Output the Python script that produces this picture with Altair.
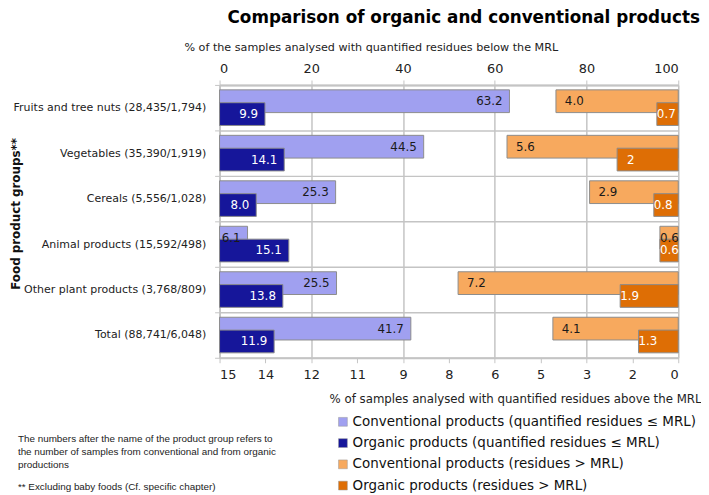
import altair as alt
import pandas as pd

categories = [
    "Fruits and tree nuts (28,435/1,794)",
    "Vegetables (35,390/1,919)",
    "Cereals (5,556/1,028)",
    "Animal products (15,592/498)",
    "Other plant products (3,768/809)",
    "Total (88,741/6,048)",
]
conv_below = [63.2, 44.5, 25.3, 6.1, 25.5, 41.7]
org_below = [9.9, 14.1, 8.0, 15.1, 13.8, 11.9]
conv_above = [4.0, 5.6, 2.9, 0.6, 7.2, 4.1]
org_above = [0.7, 2.0, 0.8, 0.6, 1.9, 1.3]
org_above_labels = ["0.7", "2", "0.8", "0.6", "1.9", "1.3"]

series_names = [
    "Conventional products  (quantified residues \u2264 MRL)",
    "Organic products (quantified residues \u2264 MRL)",
    "Conventional products (residues > MRL)",
    "Organic products (residues > MRL)",
]
series_colors = ["#A0A0F0", "#16169A", "#F7A95E", "#DE6E05"]

top_ticks = [0, 20, 40, 60, 80, 100]
bottom_ticks = [15, 13.5, 12, 10.5, 9, 7.5, 6, 4.5, 3, 1.5, 0]

title_text = "Comparison of organic and conventional products"
top_title = "% of the samples analysed with quantified residues below the MRL"
bottom_title = "% of samples analysed with quantified residues above the MRL"
y_title = "Food product groups**"
note_lines = [
    "The numbers after the name of the product group refers to",
    "the number of samples from conventional and from organic",
    "productions",
]
note2_lines = ["**  Excluding baby foods (Cf. specific chapter)"]

FONT = "DejaVu Sans"
GRID = "#c4c4c4"


def frame(vals, series, labels=None):
    return pd.DataFrame({
        "cat": categories,
        "value": vals,
        "series": series,
        "label": labels if labels is not None else [f"{v:.1f}" for v in vals],
    })


d_cb = frame(conv_below, series_names[0])
d_ob = frame(org_below, series_names[1])
d_ca = frame(conv_above, series_names[2])
d_oa = frame(org_above, series_names[3], org_above_labels)

y_enc = alt.Y(
    "cat:N", sort=categories,
    scale=alt.Scale(paddingInner=0, paddingOuter=0),
    axis=alt.Axis(
        title=y_title, tickBand="extent", grid=True, gridColor=GRID, gridWidth=1.5,
        domainColor=GRID, domainWidth=1.5, tickColor=GRID, tickSize=5,
        labelFont=FONT, labelFontSize=11.1, labelColor="#222", labelPadding=9, labelLimit=400,
        titleFont=FONT, titleFontSize=12, titleFontWeight="bold", titleColor="#111",
        titleX=-206, titleY=130, titleAlign="center", titleBaseline="middle", titleAngle=-90,
    ),
)
color_enc = alt.Color(
    "series:N",
    scale=alt.Scale(domain=series_names, range=series_colors),
    legend=alt.Legend(
        orient="none", legendX=118, legendY=334, title=None, symbolType="square",
        symbolSize=80, symbolStrokeColor="#999", symbolStrokeWidth=0.5,
        labelFont=FONT, labelFontSize=13.6, labelColor="#111", labelLimit=0,
        rowPadding=6.5, padding=0, labelOffset=3,
    ),
)

top_scale = alt.Scale(domain=[0, 100], nice=False, zero=True)
bot_scale = alt.Scale(domain=[0, 15], nice=False, zero=True, reverse=True)

top_axis = alt.Axis(
    orient="top", values=top_ticks, grid=True, gridColor=GRID, gridWidth=1.5,
    domainColor=GRID, domainWidth=2, tickColor=GRID, tickSize=5,
    labelFont=FONT, labelFontSize=13, labelColor="#222", labelPadding=4.5,
    title=top_title, titleFont=FONT, titleFontSize=11.3, titleFontWeight="normal",
    titleColor="#222", titleX=-36, titleY=-38, titleAlign="left", titleBaseline="middle",
)
bot_axis = alt.Axis(
    orient="bottom", values=bottom_ticks, format=".0f", grid=False,
    domainColor=GRID, domainWidth=2, tickColor=GRID, tickSize=5,
    labelFont=FONT, labelFontSize=13, labelColor="#222", labelPadding=5.5,
    title=bottom_title, titleFont=FONT, titleFontSize=11.9, titleFontWeight="normal",
    titleColor="#222", titleX=487, titleY=41, titleAlign="right", titleBaseline="middle",
)

BAR_H = 23
OFF = 6.5
LBL = 12

bar_cb = alt.Chart(d_cb).mark_bar(height=BAR_H, yOffset=-OFF, stroke="#8c8c8c", strokeWidth=1).encode(
    x=alt.X("value:Q", scale=top_scale, axis=top_axis), y=y_enc, color=color_enc)
bar_ob = alt.Chart(d_ob).mark_bar(height=BAR_H, yOffset=OFF, stroke="#8c8c8c", strokeWidth=1).encode(
    x=alt.X("value:Q", scale=top_scale, axis=None), y=y_enc, color=color_enc)
bar_ca = alt.Chart(d_ca).mark_bar(height=BAR_H, yOffset=-OFF, stroke="#8c8c8c", strokeWidth=1).encode(
    x=alt.X("value:Q", scale=bot_scale, axis=bot_axis), y=y_enc, color=color_enc)
bar_oa = alt.Chart(d_oa).mark_bar(height=BAR_H, yOffset=OFF, stroke="#8c8c8c", strokeWidth=1).encode(
    x=alt.X("value:Q", scale=bot_scale, axis=None), y=y_enc, color=color_enc)


def labels(data, scale, align, dx, dy, color, flt=None):
    base = alt.Chart(data)
    if flt is not None:
        base = base.transform_filter(flt)
    return base.mark_text(align=align, baseline="middle", dx=dx, dy=dy,
                          font=FONT, fontSize=LBL, color=color).encode(
        x=alt.X("value:Q", scale=scale, axis=None), y=y_enc, text="label:N")


txt_cb = labels(d_cb, top_scale, "right", -7, -OFF, "#1a1a1a")
txt_ob = labels(d_ob, top_scale, "right", -7, OFF, "white")
txt_ca_wide = labels(d_ca, bot_scale, "left", 9, -OFF, "#1a1a1a", alt.datum.value >= 1)
txt_ca_narrow = labels(d_ca, bot_scale, "left", 0, -OFF, "#1a1a1a", alt.datum.value < 1)
txt_oa_wide = labels(d_oa, bot_scale, "left", 10, OFF, "white", alt.datum.value >= 2)
txt_oa_narrow = labels(d_oa, bot_scale, "left", 0, OFF, "white", alt.datum.value < 2)

note1 = alt.Chart(pd.DataFrame({"t": [note_lines]})).mark_text(
    align="left", baseline="top", font="Liberation Sans", fontSize=10, lineHeight=13, color="#222"
).encode(x=alt.value(-204), y=alt.value(353), text="t")
note2 = alt.Chart(pd.DataFrame({"t": [note2_lines]})).mark_text(
    align="left", baseline="top", font="Liberation Sans", fontSize=10, lineHeight=13, color="#222"
).encode(x=alt.value(-204), y=alt.value(402), text="t")

chart = alt.layer(
    bar_cb, bar_ob, bar_ca, bar_oa, txt_cb, txt_ob,
    txt_ca_wide, txt_ca_narrow, txt_oa_wide, txt_oa_narrow, note1, note2
).resolve_scale(x="independent").properties(
    width=464, height=276,
    title=alt.TitleParams(title_text, anchor="end", frame="group", dx=22, fontSize=17, font=FONT,
                          fontWeight="bold", color="#000", offset=15),
    autosize=alt.AutoSizeParams(type="none"),
    padding={"left": 214, "top": 75, "right": 23, "bottom": 136},
).configure_view(stroke=None).configure(background="white")

chart.save("out.html", embed_options={"renderer": "svg", "actions": False})
